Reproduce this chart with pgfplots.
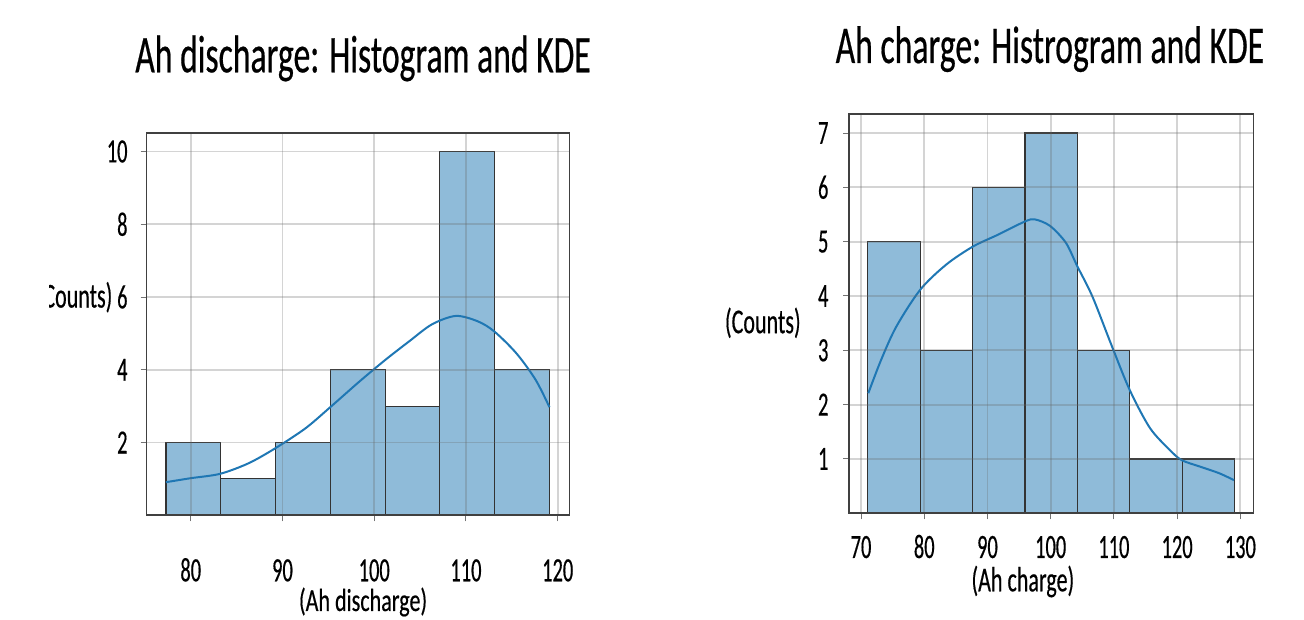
\documentclass[border=0pt]{standalone}
\usepackage{pgfplots}
\pgfplotsset{compat=1.18}
\usepackage{fontspec}
\setmainfont[FakeStretch=0.66]{Carlito}
\newfontfamily\tickfam[FakeStretch=0.6, FakeBold=0.4]{Carlito}
\newfontfamily\labfam[FakeStretch=0.63, FakeBold=0.4]{Carlito}
\newfontfamily\labfamB[FakeStretch=0.69, FakeBold=0.4]{Carlito}
\newfontfamily\titfam[FakeStretch=0.635, FakeBold=0.4]{Carlito}
\definecolor{barfill}{RGB}{143,187,217}
\definecolor{kde}{RGB}{31,119,180}
\newcommand{\tickfont}{\tickfam\fontsize{34}{34}\selectfont}
\newcommand{\labfont}{\labfam\fontsize{35}{35}\selectfont}
\newcommand{\labfontB}{\labfamB\fontsize{32}{32}\selectfont}
\newcommand{\titfont}{\titfam\fontsize{53}{53}\selectfont}
\pgfplotsset{
  hstyle/.style={
    scale only axis, axis on top,
    grid=major,
    major grid style={line width=1.8pt, black!60, opacity=0.28},
    axis line style={line width=1.6pt, black!75},
    tick align=outside, major tick length=6pt,
    tick style={line width=1pt, black!55},
    xtick pos=left, ytick pos=left,
    ymin=0,
    /pgf/number format/assume math mode=true,
    tick label style={font=\tickfont},
    yticklabel style={anchor=east, inner sep=0pt},
    xticklabel style={anchor=base, inner sep=0pt},
  },
  bars/.style={ybar interval, fill=barfill, draw=black!80, line width=1.1pt},
  kdeline/.style={kde, line width=2pt, smooth, no markers},
}
\begin{document}
\begin{tikzpicture}[x=1pt,y=1pt]
\path[use as bounding box] (0,0) rectangle (1304,620);
% ---------------- left: discharge ----------------
\begin{axis}[hstyle,
  at={(146.7pt,104.7pt)}, anchor=south west,
  width=422.6pt, height=382pt,
  xmin=75.2, xmax=121.26, ymax=10.5,
  xtick={80,90,100,110,120}, ytick={2,4,6,8,10},
  xticklabel style={yshift=-60pt},
  yticklabel style={xshift=-13pt},
  title={Ah discharge: Histogram and KDE},
  every axis title/.style={at={(axis description cs:0.512,1)}, anchor=base, yshift=61pt, font=\titfont},
  xlabel={(Ah discharge)},
  every axis x label/.style={at={(axis description cs:0.512,0)}, anchor=base, inner sep=0pt, yshift=-95.7pt, font=\labfontB},
  ylabel={(Counts)},
  every axis y label/.style={at={(axis description cs:-0.0807,0.571)}, anchor=east, inner sep=0pt, font=\labfont},
]
\addplot[bars] coordinates {
  (77.30,2) (83.27,1) (89.24,2) (95.21,4) (101.18,3) (107.15,10) (113.12,4) (119.10,4)
};
\addplot[kdeline] coordinates {
  (77.3,0.91) (80.0,1.02) (83.2,1.14) (86.3,1.43) (89.2,1.84) (92.5,2.39)
  (95.2,2.97) (98.4,3.68) (101.2,4.27) (103.8,4.78) (106.3,5.25) (108.9,5.48)
  (111.3,5.33) (113.1,5.05) (115.5,4.45) (117.6,3.72) (119.1,2.97)
};
\end{axis}
% ---------------- right: charge ----------------
\begin{axis}[hstyle,
  at={(849pt,106.7pt)}, anchor=south west,
  width=404.3pt, height=399.3pt,
  xmin=68.1, xmax=132.05, ymax=7.35,
  xtick={70,80,90,100,110,120,130}, ytick={1,2,3,4,5,6,7},
  xticklabel style={yshift=-38.7pt},
  yticklabel style={xshift=-14.4pt},
  title={Ah charge: Histrogram and KDE},
  every axis title/.style={at={(axis description cs:0.497,1)}, anchor=base, yshift=51pt, font=\titfont},
  xlabel={(Ah charge)},
  every axis x label/.style={at={(axis description cs:0.43,0)}, anchor=base, inner sep=0pt, yshift=-78pt, font=\labfont},
  ylabel={(Counts)},
  every axis y label/.style={at={(axis description cs:-0.119,0.477)}, anchor=east, inner sep=0pt, font=\labfont},
]
\addplot[bars] coordinates {
  (71.05,5) (79.34,3) (87.64,6) (95.93,7) (104.22,3) (112.52,1) (120.81,1) (129.10,1)
};
\addplot[kdeline] coordinates {
  (71.15,2.21) (73.2,2.83) (75.6,3.44) (79.4,4.12) (83.5,4.58) (87.7,4.91)
  (91.7,5.13) (95.9,5.37) (97.5,5.41) (99.9,5.29) (102.4,4.98) (104.2,4.55)
  (106.6,3.99) (109.6,3.10) (112.5,2.27) (115.7,1.57) (118.8,1.17) (120.7,0.98)
  (123.6,0.86) (126.6,0.74) (129.0,0.61)
};
\end{axis}
\fill[white] (0,0) rectangle (49,620);
\end{tikzpicture}
\end{document}
